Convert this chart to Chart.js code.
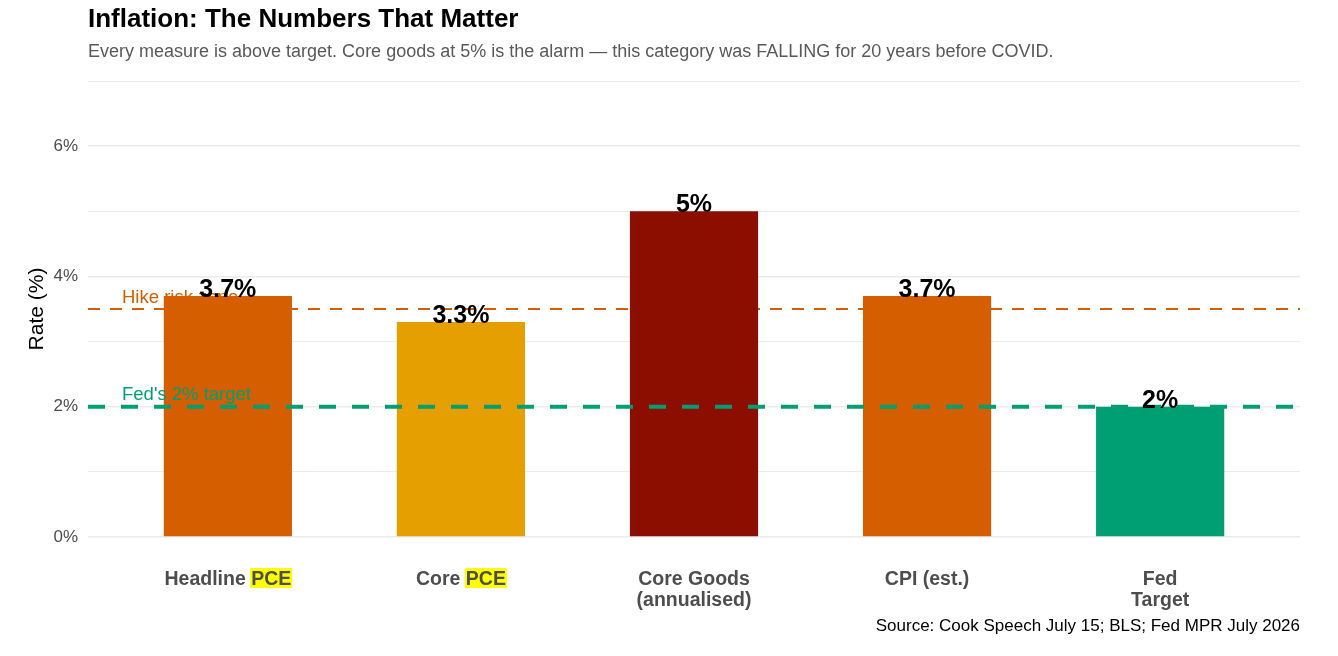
<!DOCTYPE html>
<html>
<head>
<meta charset="utf-8">
<script src="https://cdn.jsdelivr.net/npm/chart.js@4.4.1/dist/chart.umd.min.js"></script>
<style>
  html, body { margin: 0; padding: 0; background: #fff; }
  #wrap { width: 1338px; height: 656px; }
</style>
</head>
<body>
<div id="wrap"><canvas id="inflationChart" width="1338" height="656"></canvas></div>
<script>
const categories = ["Headline PCE", "Core PCE", "Core Goods\n(annualised)", "CPI (est.)", "Fed\nTarget"];
const rates = [3.7, 3.3, 5.0, 3.7, 2.0];
const valueLabels = ["3.7%", "3.3%", "5%", "3.7%", "2%"];
const barColors = ["#D55E00", "#E69F00", "#8B0E00", "#D55E00", "#009E73"];
const yTicks = [0, 1, 2, 3, 4, 5, 6, 7];
const hikeRisk = 3.5;
const fedTarget = 2.0;
const highlightWord = "PCE";

const FONT = "'Liberation Sans', Arial, Helvetica, sans-serif";

// reference lines + labels, value labels, headings
const overlay = {
  id: "overlay",
  beforeDraw(chart) {
    const { ctx, scales: { x } } = chart;
    ctx.save();
    ctx.font = "bold 19.5px " + FONT;
    categories.forEach((c, i) => {
      const pos = c.indexOf(highlightWord);
      if (pos < 0) return;
      const cx = x.getPixelForValue(i);
      const fullW = ctx.measureText(c).width;
      const preW = ctx.measureText(c.slice(0, pos)).width;
      const wordW = ctx.measureText(highlightWord).width;
      ctx.fillStyle = "#FFFF00";
      ctx.fillRect(cx - fullW / 2 + preW - 1, x.top + 31, wordW + 2, 20);
    });
    ctx.restore();
  },
  beforeDatasetsDraw(chart) {
    const { ctx, chartArea: a, scales: { y } } = chart;
    const yp = y.getPixelForValue(hikeRisk);
    ctx.save();
    ctx.strokeStyle = "#D55E00";
    ctx.lineWidth = 2;
    ctx.setLineDash([12, 10]);
    ctx.beginPath();
    ctx.moveTo(a.left, yp);
    ctx.lineTo(a.right, yp);
    ctx.stroke();
    ctx.fillStyle = "#D55E00";
    ctx.font = "18.5px " + FONT;
    ctx.textBaseline = "middle";
    ctx.fillText("Hike risk zone", a.left + 34, yp - 11);
    ctx.restore();
  },
  afterDatasetsDraw(chart) {
    const { ctx, chartArea: a, scales: { x, y } } = chart;
    const yp = y.getPixelForValue(fedTarget);
    ctx.save();
    ctx.strokeStyle = "#009E73";
    ctx.lineWidth = 4;
    ctx.setLineDash([17, 16]);
    ctx.beginPath();
    ctx.moveTo(a.left, yp);
    ctx.lineTo(a.right, yp);
    ctx.stroke();
    ctx.fillStyle = "#009E73";
    ctx.font = "18.5px " + FONT;
    ctx.textBaseline = "middle";
    ctx.fillText("Fed's 2% target", a.left + 34, yp - 12);

    ctx.fillStyle = "#000";
    ctx.font = "bold 25px " + FONT;
    ctx.textAlign = "center";
    rates.forEach((v, i) => {
      ctx.fillText(valueLabels[i], x.getPixelForValue(i), y.getPixelForValue(v) - 6);
    });
    ctx.restore();
  },
  afterDraw(chart) {
    const { ctx, chartArea: a } = chart;
    ctx.save();
    ctx.textBaseline = "middle";
    ctx.fillStyle = "#000";
    ctx.font = "bold 26px " + FONT;
    ctx.fillText("Inflation: The Numbers That Matter", a.left, 20);
    ctx.fillStyle = "#595959";
    ctx.font = "18px " + FONT;
    ctx.fillText("Every measure is above target. Core goods at 5% is the alarm \u2014 this category was FALLING for 20 years before COVID.", a.left, 52);
    ctx.fillStyle = "#000";
    ctx.font = "17px " + FONT;
    ctx.textAlign = "right";
    ctx.fillText("Source: Cook Speech July 15; BLS; Fed MPR July 2026", a.right, 626);
    ctx.restore();
  }
};

const ctx = document.getElementById("inflationChart").getContext("2d");
const chart = new Chart(ctx, {
  type: "bar",
  data: {
    datasets: [{
      data: rates.map((v, i) => ({ x: i, y: v })),
      backgroundColor: barColors,
      borderWidth: 0,
      barPercentage: 0.55,
      categoryPercentage: 1
    }]
  },
  options: {
    responsive: false,
    animation: false,
    layout: { padding: { top: 81, right: 38, left: 0, bottom: 0 } },
    plugins: { legend: { display: false }, tooltip: { enabled: false } },
    scales: {
      x: {
        type: "linear",
        offset: false,
        min: -0.6,
        max: categories.length - 0.4,
        afterBuildTicks: (axis) => { axis.ticks = categories.map((c, i) => ({ value: i })); },
        afterFit: (axis) => { axis.height = 119; },
        grid: { display: false },
        border: { display: false },
        ticks: {
          autoSkip: false,
          maxRotation: 0,
          padding: 24,
          color: "#4D4D4D",
          font: { family: FONT, size: 19.5, weight: "bold", lineHeight: 1.07 },
          callback: (v) => categories[v] ? categories[v].split("\n") : ""
        }
      },
      y: {
        min: 0,
        max: 7,
        afterBuildTicks: (axis) => { axis.ticks = yTicks.map(v => ({ value: v })); },
        afterFit: (axis) => { axis.width = 88; },
        border: { display: false },
        grid: {
          drawTicks: false,
          color: "#EBEBEB",
          lineWidth: (c) => (c.tick && c.tick.value % 2 === 0) ? 1.6 : 1
        },
        ticks: {
          padding: 10,
          color: "#4D4D4D",
          font: { family: FONT, size: 17 },
          callback: (v) => v % 2 === 0 ? v + "%" : ""
        },
        title: {
          display: true,
          text: "Rate (%)",
          color: "#000",
          font: { family: FONT, size: 21 },
          padding: { top: 25, bottom: 0 }
        }
      }
    }
  },
  plugins: [overlay]
});
</script>
</body>
</html>
